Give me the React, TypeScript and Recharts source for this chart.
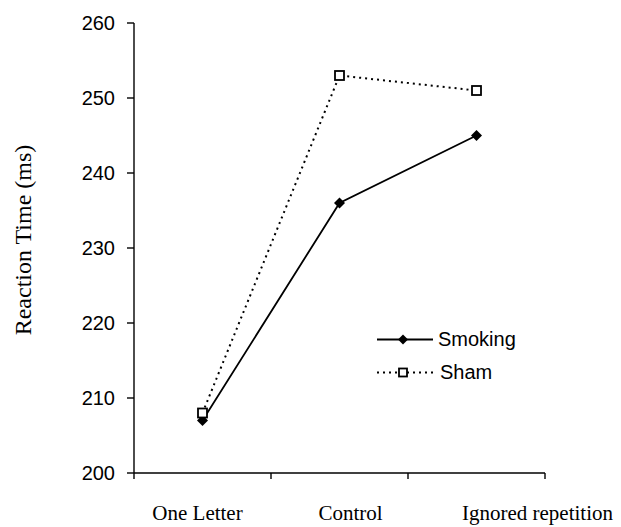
import React from 'react';
import { LineChart, Line, XAxis, YAxis, Legend } from 'recharts';

const CATEGORIES = ['One Letter', 'Control', 'Ignored repetition'];
const SMOKING = [207, 236, 245];
const SHAM = [208, 253, 251];
const Y_TICKS = [200, 210, 220, 230, 240, 250, 260];

// tick-label horizontal nudges (style only)
const LABEL_DX = [-5, 11, 61];

const SANS = '"Liberation Sans", Arial, sans-serif';
const SERIF = '"Liberation Serif", "Times New Roman", serif';

const data = CATEGORIES.map((c, i) => ({ name: c, x: i + 0.5, smoking: SMOKING[i], sham: SHAM[i] }));
const X_TICKS: number[] = [];
for (let i = 0; i <= CATEGORIES.length; i++) {
  X_TICKS.push(i);
  if (i < CATEGORIES.length) X_TICKS.push(i + 0.5);
}

const XTick = (props: any) => {
  const { x, y, payload } = props;
  const v = payload.value as number;
  if (Number.isInteger(v)) {
    return <line x1={x} x2={x} y1={y} y2={y + 6} stroke="#000" strokeWidth={1.4} />;
  }
  const idx = Math.floor(v);
  return (
    <text x={x + LABEL_DX[idx]} y={y + 47} textAnchor="middle" fontFamily={SERIF} fontSize={21} fill="#000">
      {CATEGORIES[idx]}
    </text>
  );
};

const DiamondDot = (props: any) => {
  const { cx, cy } = props;
  if (cx == null || cy == null) return <g />;
  const r = 5.5;
  return <polygon points={`${cx},${cy - r} ${cx + r},${cy} ${cx},${cy + r} ${cx - r},${cy}`} fill="#000" />;
};

const SquareDot = (props: any) => {
  const { cx, cy } = props;
  if (cx == null || cy == null) return <g />;
  const s = 4.5;
  return <rect x={cx - s} y={cy - s} width={2 * s} height={2 * s} fill="#fff" stroke="#000" strokeWidth={1.8} />;
};

const YLabel = (props: any) => {
  const vb = props.viewBox || { x: 0, y: 0, width: 0, height: 0 };
  const x = vb.x + 31;
  const y = vb.y + vb.height / 2 - 8;
  return (
    <text x={x} y={y} transform={`rotate(-90, ${x}, ${y})`} textAnchor="middle" fontFamily={SERIF} fontSize={24} fill="#000">
      Reaction Time (ms)
    </text>
  );
};

const LegendContent = () => (
  <div style={{ fontFamily: SANS, fontSize: 20, color: '#000' }}>
    <div style={{ display: 'flex', alignItems: 'center', height: 33 }}>
      <svg width={56} height={33}>
        <line x1={0} x2={56} y1={16.5} y2={16.5} stroke="#000" strokeWidth={1.8} />
        <polygon points="26,11.5 31,16.5 26,21.5 21,16.5" fill="#000" />
      </svg>
      <span style={{ marginLeft: 5 }}>Smoking</span>
    </div>
    <div style={{ display: 'flex', alignItems: 'center', height: 33 }}>
      <svg width={56} height={33}>
        <line x1={0} x2={56} y1={16.5} y2={16.5} stroke="#000" strokeWidth={2} strokeDasharray="2 4" />
        <rect x={22} y={12.5} width={8} height={8} fill="#fff" stroke="#000" strokeWidth={1.8} />
      </svg>
      <span style={{ marginLeft: 7 }}>Sham</span>
    </div>
  </div>
);

export default function App() {
  return (
    <div style={{ position: 'absolute', left: 0, top: 0, width: 621, height: 527, background: '#fff' }}>
      <LineChart width={621} height={527} data={data} margin={{ top: 23, right: 76, left: 0, bottom: 0 }}>
        <XAxis
          dataKey="x"
          type="number"
          domain={[0, 3]}
          ticks={X_TICKS}
          interval={0}
          tick={<XTick />}
          tickLine={false}
          tickSize={0}
          tickMargin={0}
          height={54}
          axisLine={{ stroke: '#000', strokeWidth: 1.4 }}
        />
        <YAxis
          domain={[200, 260]}
          ticks={Y_TICKS}
          interval={0}
          width={134}
          tickSize={7}
          tickMargin={12}
          tickLine={{ stroke: '#000', strokeWidth: 1.4 }}
          axisLine={{ stroke: '#000', strokeWidth: 1.4 }}
          tick={{ fill: '#000', fontFamily: SANS, fontSize: 20 }}
          label={<YLabel />}
        />
        <Legend
          layout="vertical"
          align="center"
          verticalAlign="middle"
          wrapperStyle={{ left: 377, top: 323, width: 'auto' }}
          content={<LegendContent />}
        />
        <Line
          dataKey="smoking"
          name="Smoking"
          stroke="#000"
          strokeWidth={1.8}
          dot={<DiamondDot />}
          activeDot={false}
          isAnimationActive={false}
        />
        <Line
          dataKey="sham"
          name="Sham"
          stroke="#000"
          strokeWidth={2}
          strokeDasharray="2 4"
          dot={<SquareDot />}
          activeDot={false}
          isAnimationActive={false}
        />
      </LineChart>
    </div>
  );
}
